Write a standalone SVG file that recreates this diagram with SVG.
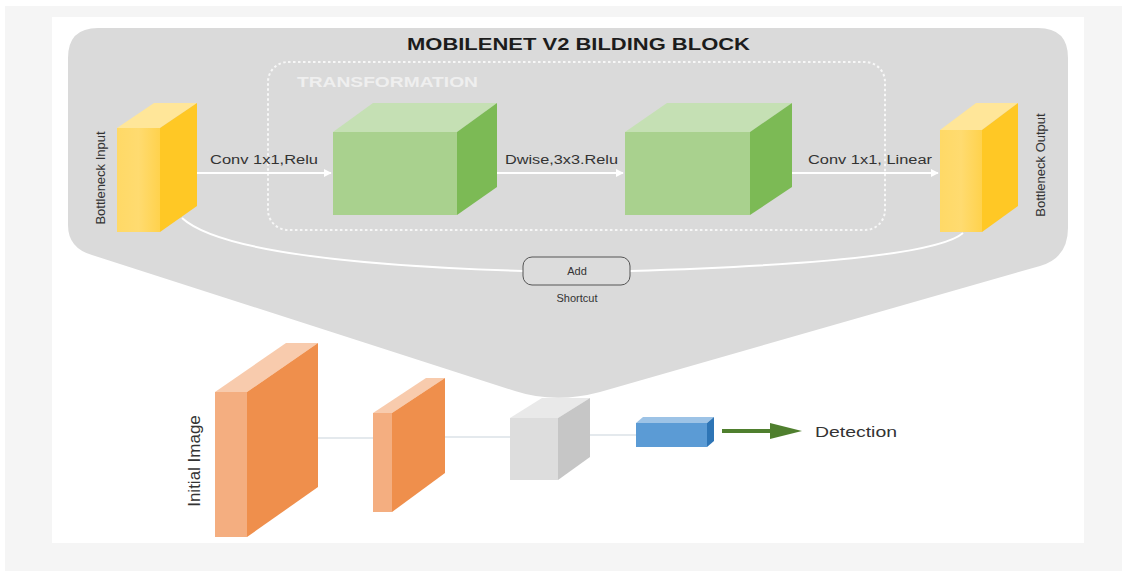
<svg xmlns="http://www.w3.org/2000/svg" width="1122" height="571" viewBox="0 0 1122 571">
  <style>
    .lbl { font-family: "Liberation Sans", Arial, sans-serif; fill: #333; }
    .title { font-family: "Liberation Sans", Arial, sans-serif; font-weight: bold; fill: #1c1c1c; }
    .flow { stroke: #ffffff; stroke-width: 2; fill: none; }
    .thin { stroke: #c9d3dc; stroke-width: 1.2; fill: none; }
  </style>
  <defs>
    <marker id="wArrow" viewBox="0 0 10 10" refX="9" refY="5" markerWidth="4" markerHeight="4" orient="auto">
      <path d="M0,0 L10,5 L0,10 Z" fill="#ffffff"/>
    </marker>
    <linearGradient id="yFront" x1="0" y1="0" x2="1" y2="0">
      <stop offset="0" stop-color="#ffd966"/>
      <stop offset="0.5" stop-color="#ffdb70"/>
      <stop offset="1" stop-color="#ffd24d"/>
    </linearGradient>
  </defs>

  <!-- page background -->
  <rect x="0" y="0" width="1122" height="571" fill="#ffffff"/>
  <rect x="5" y="6" width="1117" height="565" fill="#f5f5f5"/>
  <rect x="52" y="17" width="1032" height="526" fill="#ffffff"/>

  <!-- building block panel funnelling into the feature map -->
  <path id="panel" d="M98,28 H1038 Q1068,28 1068,58 V228 Q1068,258 1040,266 L600,392 Q555,404 515,391 L92,255 Q68,248 68,225 V58 Q68,28 98,28 Z" fill="#dadada"/>

  <text class="title" x="407" y="50" font-size="17" textLength="343" lengthAdjust="spacingAndGlyphs">MOBILENET V2 BILDING BLOCK</text>

  <!-- transformation group -->
  <g id="transformation">
    <rect x="268" y="62" width="617" height="168" rx="20" fill="none" stroke="#f7f7f7" stroke-width="2" stroke-dasharray="2.5 2.5"/>
    <text x="297" y="87" font-family="Liberation Sans, Arial, sans-serif" font-weight="bold" font-size="14" fill="#efefef" textLength="181" lengthAdjust="spacingAndGlyphs">TRANSFORMATION</text>
  </g>

  <!-- connectors -->
  <g id="connectors">
    <line class="flow" x1="197" y1="173" x2="331" y2="173" marker-end="url(#wArrow)"/>
    <line class="flow" x1="497" y1="173" x2="623" y2="173" marker-end="url(#wArrow)"/>
    <line class="flow" x1="792" y1="173" x2="938" y2="173" marker-end="url(#wArrow)"/>
    <path class="flow" d="M182,218 Q230,262 523,271"/>
    <path class="flow" d="M630,271 Q930,262 963,233"/>
    <line class="thin" x1="318" y1="438" x2="373" y2="438"/>
    <line class="thin" x1="445" y1="437" x2="510" y2="437"/>
    <line class="thin" x1="590" y1="435" x2="636" y2="435"/>
    <g id="detArrow">
      <line x1="722" y1="431" x2="772" y2="431" stroke="#4f7f2e" stroke-width="4"/>
      <path d="M770,423 L802,431 L770,439 Z" fill="#4f7f2e"/>
    </g>
  </g>

  <!-- connector labels -->
  <text class="lbl" x="210" y="164" font-size="12" textLength="108" lengthAdjust="spacingAndGlyphs">Conv 1x1,Relu</text>
  <text class="lbl" x="505" y="164" font-size="12" textLength="113" lengthAdjust="spacingAndGlyphs">Dwise,3x3.Relu</text>
  <text class="lbl" x="808" y="164" font-size="12" textLength="124" lengthAdjust="spacingAndGlyphs">Conv 1x1, Linear</text>

  <!-- bottleneck input -->
  <g id="bottleneck-input">
    <polygon points="117,128 154,103 197,103 160,128" fill="#ffe699"/>
    <polygon points="160,128 197,103 197,206 160,232" fill="#ffc825"/>
    <rect x="117" y="128" width="43" height="104" fill="url(#yFront)"/>
    <text class="lbl" transform="translate(105,178) rotate(-90)" text-anchor="middle" font-size="13" fill="#222">Bottleneck Input</text>
  </g>

  <!-- expansion -->
  <g id="expansion">
    <polygon points="333,132 373,103 497,103 457,132" fill="#c5e0b4"/>
    <polygon points="457,132 497,103 497,187 457,215" fill="#7cba55"/>
    <rect x="333" y="132" width="124" height="83" fill="#a9d18e"/>
  </g>

  <!-- depthwise -->
  <g id="depthwise">
    <polygon points="625,132 667,103 792,103 750,132" fill="#c5e0b4"/>
    <polygon points="750,132 792,103 792,187 750,215" fill="#7cba55"/>
    <rect x="625" y="132" width="125" height="83" fill="#a9d18e"/>
  </g>

  <!-- bottleneck output -->
  <g id="bottleneck-output">
    <polygon points="940,130 976,103 1018,103 982,130" fill="#ffe699"/>
    <polygon points="982,130 1018,103 1018,206 982,232" fill="#ffc825"/>
    <rect x="940" y="130" width="42" height="102" fill="url(#yFront)"/>
    <text class="lbl" transform="translate(1045,165) rotate(-90)" text-anchor="middle" font-size="13" fill="#222">Bottleneck Output</text>
  </g>

  <!-- shortcut add -->
  <g id="add">
    <rect x="523" y="257" width="107" height="28" rx="9" fill="#dcdcdc" stroke="#555" stroke-width="1"/>
    <text class="lbl" x="577" y="275" font-size="11" text-anchor="middle">Add</text>
    <text class="lbl" x="577" y="302" font-size="11" text-anchor="middle">Shortcut</text>
  </g>

  <!-- initial image -->
  <g id="initial-image">
    <polygon points="215,392 286,343 318,343 247,392" fill="#f8cbad"/>
    <polygon points="247,392 318,343 318,487 247,537" fill="#ef8f4c"/>
    <rect x="215" y="392" width="32" height="145" fill="#f4ae80"/>
    <text class="lbl" transform="translate(200,461) rotate(-90)" text-anchor="middle" font-size="17" fill="#222">Initial Image</text>
  </g>

  <!-- second feature map -->
  <g id="feature-map">
    <polygon points="373,413 426,378 445,378 392,413" fill="#f8cbad"/>
    <polygon points="392,413 445,378 445,473 392,512" fill="#ef8f4c"/>
    <rect x="373" y="413" width="19" height="99" fill="#f4ae80"/>
  </g>

  <!-- bottleneck block -->
  <g id="block">
    <polygon points="510,418 542,398 590,398 558,418" fill="#e9e9e9"/>
    <polygon points="558,418 590,398 590,457 558,480" fill="#c6c6c6"/>
    <rect x="510" y="418" width="48" height="62" fill="#dddddd"/>
  </g>

  <!-- head -->
  <g id="head">
    <polygon points="636,423 643,417 714,417 707,423" fill="#9dc3e6"/>
    <polygon points="707,423 714,417 714,441 707,447" fill="#2e75b6"/>
    <rect x="636" y="423" width="71" height="24" fill="#5b9bd5"/>
  </g>

  <g id="detection">
    <text class="lbl" x="815" y="437" font-size="15" textLength="82" lengthAdjust="spacingAndGlyphs">Detection</text>
  </g>
</svg>
